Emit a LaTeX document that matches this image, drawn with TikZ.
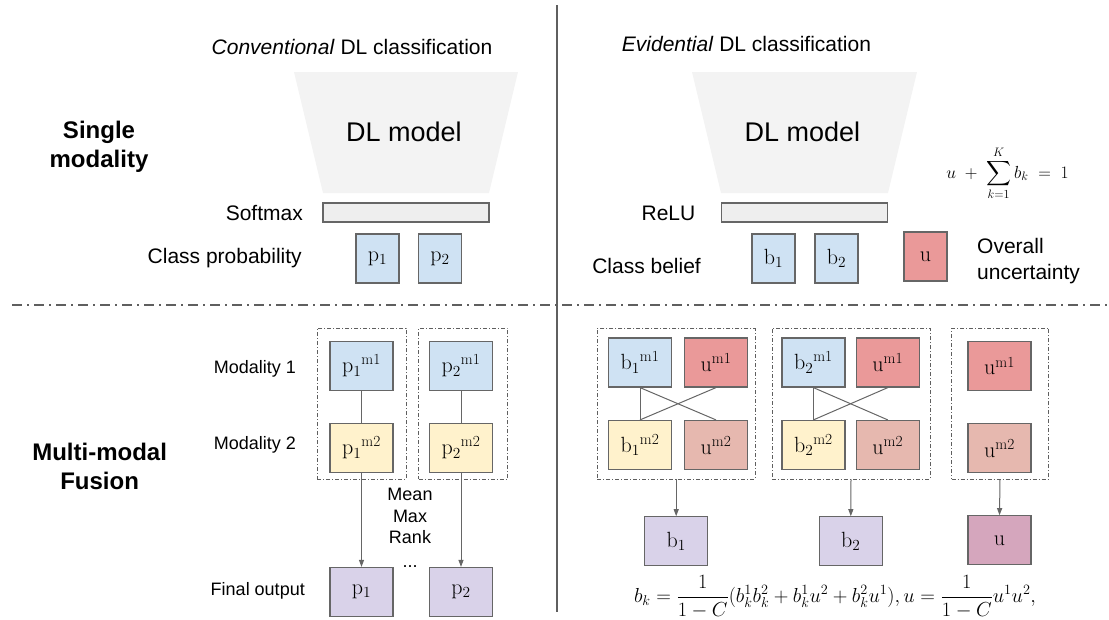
\RequirePackage{fix-cm}
\documentclass[tikz,border=0pt]{standalone}
\usepackage{amsmath}
\usepackage{fontspec}
\setsansfont{Liberation Sans}
\usetikzlibrary{arrows.meta}
\definecolor{bordergray}{HTML}{666666}
\definecolor{linegray}{HTML}{5f5f5f}
\definecolor{lblue}{HTML}{CFE2F3}
\definecolor{lyellow}{HTML}{FFF2CC}
\definecolor{lred}{HTML}{EA9999}
\definecolor{lberry}{HTML}{E6B8AF}
\definecolor{lpurple}{HTML}{D9D2E9}
\definecolor{lmagenta}{HTML}{D5A6BD}
\definecolor{trapgray}{HTML}{F3F3F3}
\definecolor{bargray}{HTML}{EEEEEE}
\tikzset{
  lbl/.style={font=\sffamily\fontsize{21}{26}\selectfont, inner sep=0},
  smalllbl/.style={font=\sffamily\fontsize{18}{21.5}\selectfont, inner sep=0},
  head/.style={font=\sffamily\bfseries\fontsize{24}{29}\selectfont, inner sep=0, align=center},
  biglbl/.style={font=\sffamily\fontsize{27}{32}\selectfont, inner sep=0},
  cell/.style={draw=bordergray, line width=1.2pt, inner sep=0, font=\fontsize{22}{26}\selectfont},
  sbox/.style={cell, minimum width=43pt, minimum height=49pt},
  mbox/.style={cell, minimum width=63pt, minimum height=49pt},
  group/.style={draw=linegray, line width=0.9pt, dash pattern=on 4pt off 2pt on 1pt off 2pt, inner sep=0},
  bar/.style={draw=bordergray, line width=1.2pt, fill=bargray, inner sep=0, minimum width=166pt, minimum height=19pt},
  conn/.style={draw=bordergray, line width=1pt},
  arr/.style={conn, -{Triangle[length=7pt,width=5pt]}},
  sepline/.style={draw=linegray, line width=1.5pt, dash pattern=on 10pt off 5pt on 2pt off 5pt},
  divider/.style={draw=linegray, line width=2.5pt},
  formula/.style={inner sep=0, font=\fontsize{20.3}{24}\selectfont}
}
\begin{document}
\begin{tikzpicture}[x=1pt,y=-1pt]
\useasboundingbox (0,0) rectangle (1109,619);
% separators
\coordinate (dtop) at (557,5);
\coordinate (dbot) at (557,612);
\coordinate (hl) at (12,305);
\coordinate (hr) at (1109,305);
\draw[sepline] (hl) -- (hr);
\draw[divider] (dtop) -- (dbot);

% ---------- top left ----------
\node[lbl, anchor=base] (t1) at (352,54.5) {\textit{Conventional} DL classification};
\fill[trapgray] (294,72) -- (518,72) -- (489,193) -- (323,193) -- cycle;
\node[biglbl, anchor=base] (m1) at (404,141.7) {DL model};
\node[bar] (soft) at (406,212.5) {};
\node[lbl, anchor=base east] (softl) at (303,220.5) {Softmax};
\node[lbl, anchor=base east] (cprob) at (302,263.5) {Class probability};
\node[sbox, fill=lblue] (sp1) at (377.5,258.5) {$\mathrm{p}_1$};
\node[sbox, fill=lblue] (sp2) at (440,258.5) {$\mathrm{p}_2$};
\node[head] (single) at (99,147) {Single\\modality};

% ---------- top right ----------
\node[lbl, anchor=base] (t2) at (746.5,51) {\textit{Evidential} DL classification};
\fill[trapgray] (692,72) -- (917,72) -- (888,193) -- (721,193) -- cycle;
\node[biglbl, anchor=base] (m2) at (802.5,141.7) {DL model};
\node[bar] (relu) at (804.5,212.5) {};
\node[lbl, anchor=base east] (relul) at (695.5,220.5) {ReLU};
\node[lbl, anchor=base east] (cbel) at (701,273.5) {Class belief};
\node[sbox, fill=lblue] (sb1) at (773.5,258.5) {$\mathrm{b}_1$};
\node[sbox, fill=lblue] (sb2) at (836.5,258.5) {$\mathrm{b}_2$};
\node[sbox, fill=lred] (su) at (925.5,256.5) {$\mathrm{u}$};
\node[lbl, anchor=west, align=left] (ounc) at (977,261) {Overall\\uncertainty};
\node[inner sep=0, font=\fontsize{17.5}{21}\selectfont] (sumf) at (1007.5,173.5) {$\displaystyle u\;+\;\sum_{k=1}^{K} b_k \;=\; 1$};

% ---------- bottom left ----------
\node[head] (multi) at (99.6,466) {Multi-modal\\Fusion};
\node[smalllbl, anchor=base east] (mod1) at (296,373.5) {Modality 1};
\node[smalllbl, anchor=base east] (mod2) at (296,449.5) {Modality 2};
\node[smalllbl, anchor=base east] (fout) at (305,595.5) {Final output};
\node[group, minimum width=89pt, minimum height=151pt] (lg1) at (361.5,403.5) {};
\node[group, minimum width=89pt, minimum height=151pt] (lg2) at (463.3,403.5) {};
\node[mbox, fill=lblue] (p1a) at (361.5,366) {$\mathrm{p}_1{}^{\mathrm{m1}}$};
\node[mbox, fill=lblue] (p2a) at (461,366) {$\mathrm{p}_2{}^{\mathrm{m1}}$};
\node[mbox, fill=lyellow] (p1b) at (361.5,448) {$\mathrm{p}_1{}^{\mathrm{m2}}$};
\node[mbox, fill=lyellow] (p2b) at (461,448) {$\mathrm{p}_2{}^{\mathrm{m2}}$};
\node[mbox, fill=lpurple] (fp1) at (361.5,592) {$\mathrm{p}_1$};
\node[mbox, fill=lpurple] (fp2) at (461,592) {$\mathrm{p}_2$};
\draw[conn] (p1a) -- (p1b);
\draw[conn] (p2a) -- (p2b);
\draw[arr] (p1b) -- (fp1);
\draw[arr] (p2b) -- (fp2);
\node[smalllbl, align=center] (agg) at (410,528) {Mean\\Max\\Rank\\[2pt]...};

% ---------- bottom right ----------
\node[group, minimum width=157.5pt, minimum height=151pt] (rg1) at (676.2,403.5) {};
\node[group, minimum width=158pt, minimum height=151pt] (rg2) at (851,403.5) {};
\node[group, minimum width=97pt, minimum height=151pt] (rg3) at (1000,403.5) {};
\node[mbox, fill=lblue] (b1a) at (640,362.5) {$\mathrm{b}_1{}^{\mathrm{m1}}$};
\node[mbox, fill=lred] (u1a) at (716,362.5) {$\mathrm{u}^{\mathrm{m1}}$};
\node[mbox, fill=lyellow] (b1b) at (640,445) {$\mathrm{b}_1{}^{\mathrm{m2}}$};
\node[mbox, fill=lberry] (u1b) at (716,445) {$\mathrm{u}^{\mathrm{m2}}$};
\node[mbox, fill=lblue] (b2a) at (813.4,362.5) {$\mathrm{b}_2{}^{\mathrm{m1}}$};
\node[mbox, fill=lred] (u2a) at (887.8,362.5) {$\mathrm{u}^{\mathrm{m1}}$};
\node[mbox, fill=lyellow] (b2b) at (813.4,445) {$\mathrm{b}_2{}^{\mathrm{m2}}$};
\node[mbox, fill=lberry] (u2b) at (887.8,445) {$\mathrm{u}^{\mathrm{m2}}$};
\node[mbox, fill=lred] (u3a) at (999.5,366) {$\mathrm{u}^{\mathrm{m1}}$};
\node[mbox, fill=lberry] (u3b) at (999.5,448) {$\mathrm{u}^{\mathrm{m2}}$};
\draw[conn] (b1a.south) -- (b1b.north);
\draw[conn] (b1a.south) -- (u1b.north);
\draw[conn] (u1a.south) -- (b1b.north);
\draw[conn] (b2a.south) -- (b2b.north);
\draw[conn] (b2a.south) -- (u2b.north);
\draw[conn] (u2a.south) -- (b2b.north);
\node[mbox, fill=lpurple] (fb1) at (676.2,541.3) {$\mathrm{b}_1$};
\node[mbox, fill=lpurple] (fb2) at (850.8,541.3) {$\mathrm{b}_2$};
\node[mbox, fill=lmagenta] (fu) at (999.5,540.3) {$\mathrm{u}$};
\draw[arr] (rg1.south) -- (fb1.north);
\draw[arr] (rg2.south) -- (fb2.north);
\draw[arr] (rg3.south) -- (fu.north);
\node[formula] (fusef) at (835,597) {$\displaystyle b_k=\frac{1}{1-C}(b_k^1b_k^2+b_k^1u^2+b_k^2u^1), u=\frac{1}{1-C}u^1u^2,$};
\end{tikzpicture}
\end{document}
